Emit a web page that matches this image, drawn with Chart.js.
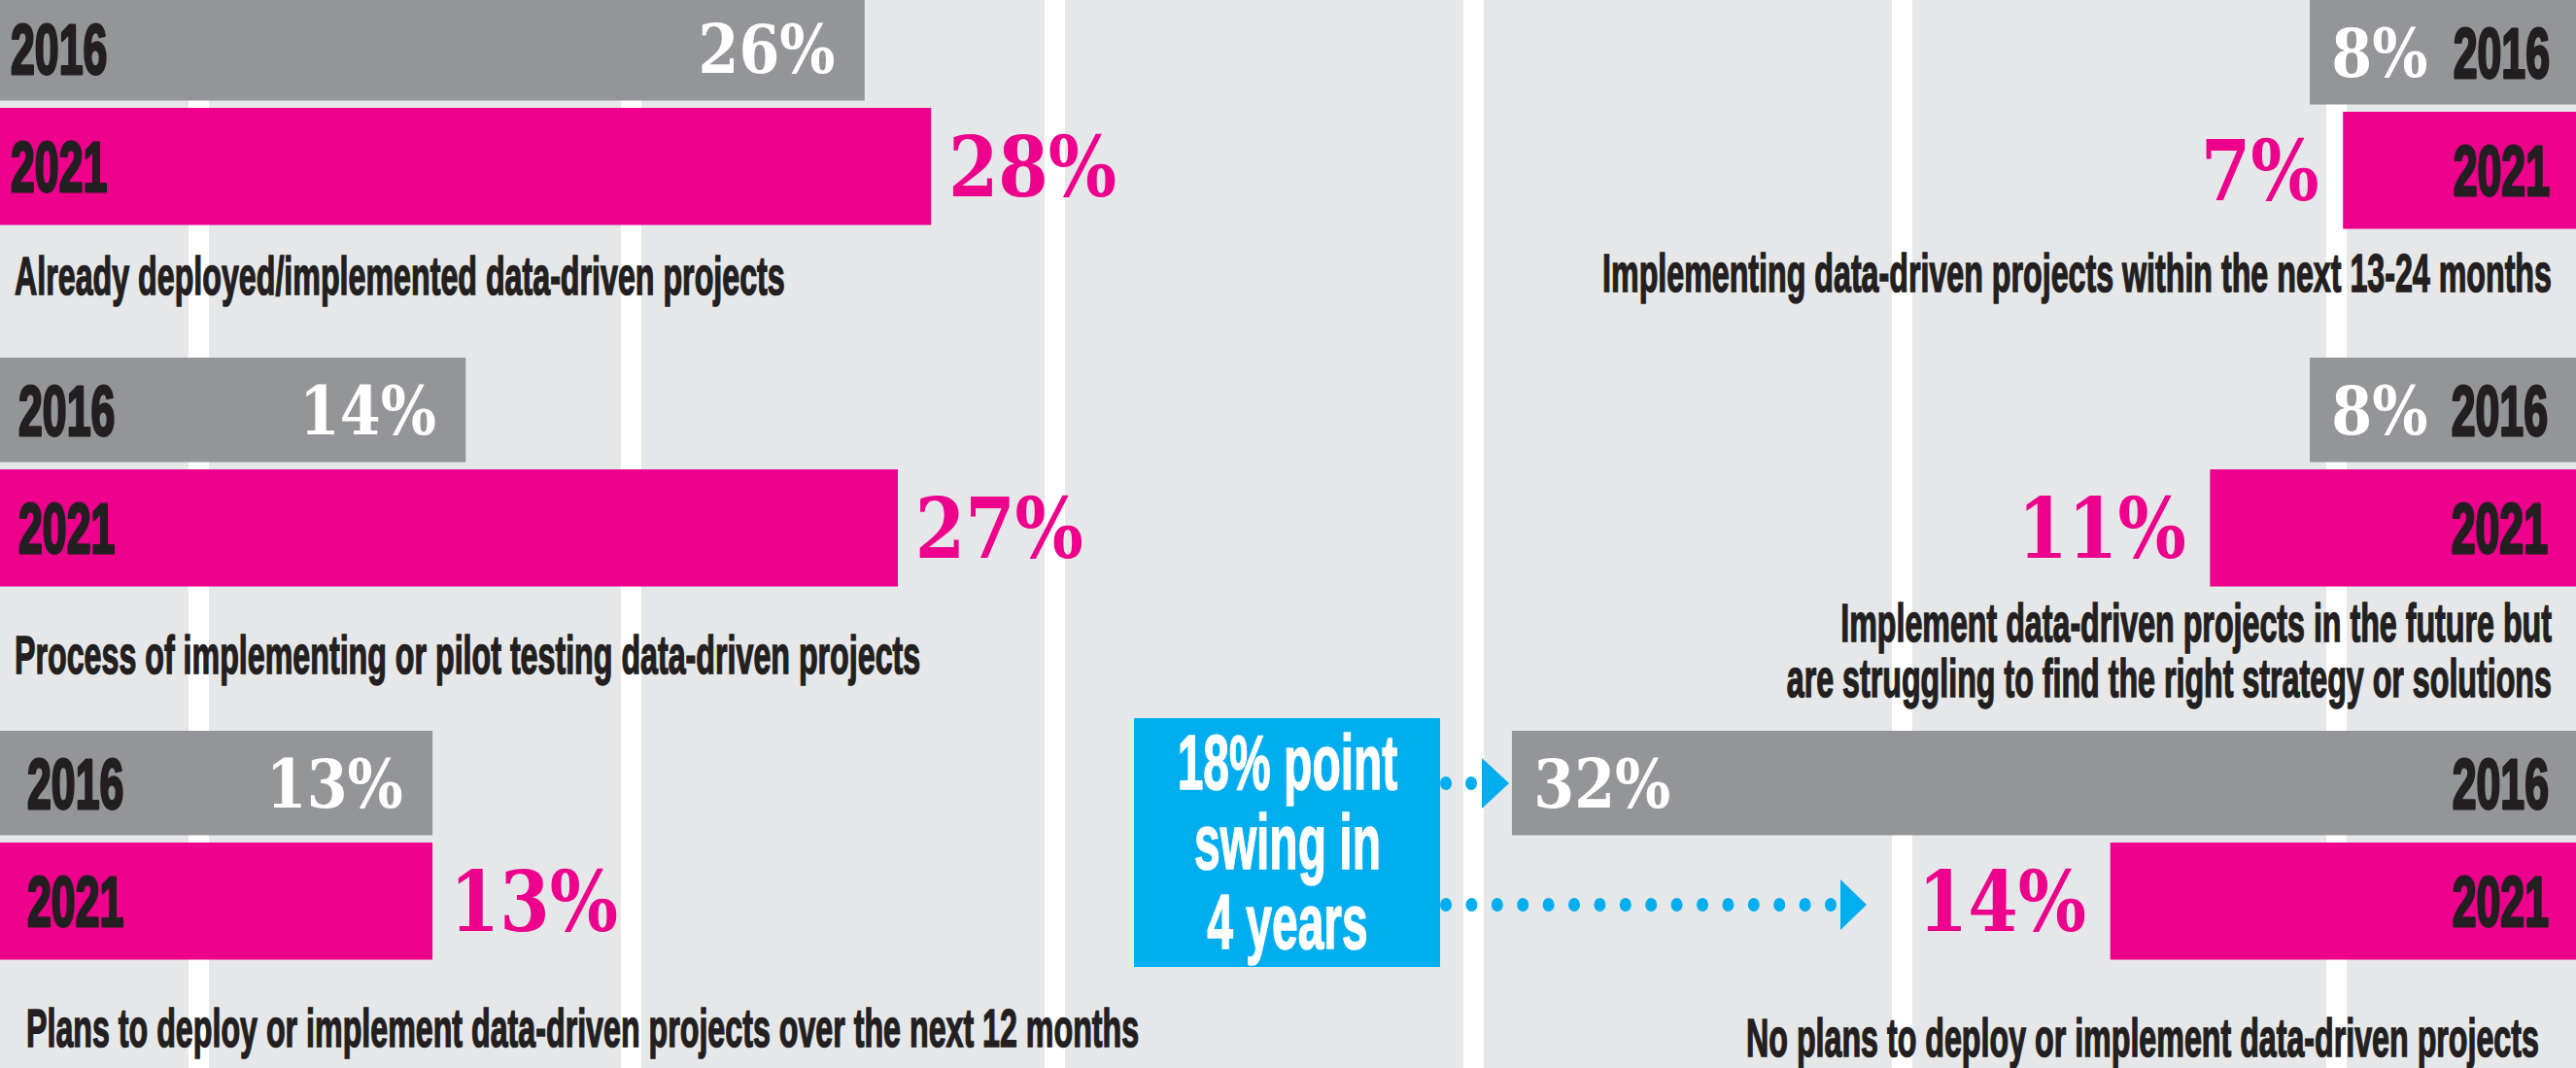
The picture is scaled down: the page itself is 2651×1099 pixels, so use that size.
<!DOCTYPE html>
<html>
<head>
<meta charset="utf-8">
<title>Data-driven projects 2016 vs 2021</title>
<script src="https://cdn.jsdelivr.net/npm/chart.js@4.4.1/dist/chart.umd.min.js"></script>
<style>
  html, body { margin: 0; padding: 0; }
  body { width: 2651px; height: 1099px; position: relative; overflow: hidden; background: #e6e7e8; }
  .stripe { position: absolute; top: 0; width: 21px; height: 1099px; background: #fff; }
  canvas { position: absolute; }
  .desc {
    position: absolute; white-space: pre;
    font-family: 'Liberation Sans', Arial, sans-serif; font-weight: bold;
    font-size: 56px; line-height: 57px; color: #231f20;
    -webkit-text-stroke: 1.5px #231f20;
    transform: scaleX(0.575);
  }
  .desc.l { transform-origin: left top; }
  .desc.r { transform-origin: right top; text-align: right; }
  .callout { position: absolute; left: 1167px; top: 739px; width: 315px; height: 256px; background: #00aeef; }
  .callout div {
    position: absolute; left: -142px; top: 5px; width: 600px; text-align: center; white-space: pre;
    font-family: 'Liberation Sans', Arial, sans-serif; font-weight: bold;
    font-size: 80px; line-height: 82px; color: #fff;
    -webkit-text-stroke: 1.5px #fff;
    transform: scaleX(0.6); transform-origin: center top;
  }
  svg { position: absolute; left: 0; top: 0; }
</style>
</head>
<body>
<script>
// データ
const categories = [
  'Already deployed/implemented data-driven projects',
  'Process of implementing or pilot testing data-driven projects',
  'Plans to deploy or implement data-driven projects over the next 12 months',
  'Implementing data-driven projects within the next 13-24 months',
  'Implement data-driven projects in the future but\nare struggling to find the right strategy or solutions',
  'No plans to deploy or implement data-driven projects'
];
const years = ['2016', '2021'];
const values2016 = [26, 14, 13, 8, 8, 32];
const values2021 = [28, 27, 13, 7, 11, 14];

const GRAY = '#939598';
const PINK = '#ec008c';
const BLUE = '#00aeef';
const INK = '#231f20';

const CW = 1300, CH = 243;
const X_MAX = 38;

// 配置 (side, canvas top, year label inset)
const panels = [
  { side: 'left',  top: -11, inset: 11 },
  { side: 'left',  top: 361, inset: 19 },
  { side: 'left',  top: 745, inset: 28 },
  { side: 'right', top: -7,  inset: 27 },
  { side: 'right', top: 361, inset: 29 },
  { side: 'right', top: 745, inset: 28 }
];
const descPos = [
  { left: 15, top: 255 },
  { left: 15, top: 645 },
  { left: 27, top: 1029 },
  { right: 25, top: 252 },
  { right: 25, top: 612 },
  { right: 38, top: 1039 }
];
const stripes = [194, 639, 1075, 1506, 1947, 2394];

stripes.forEach(x => {
  const s = document.createElement('div');
  s.className = 'stripe';
  s.style.left = x + 'px';
  document.body.appendChild(s);
});

function squeezeText(ctx, text, x, y, font, color, align, sx, stroke) {
  ctx.save();
  ctx.font = font;
  ctx.fillStyle = color;
  ctx.strokeStyle = color;
  ctx.lineJoin = 'round';
  ctx.textAlign = align;
  ctx.textBaseline = 'alphabetic';
  ctx.translate(x, y);
  ctx.scale(sx, 1);
  ctx.fillText(text, 0, 0);
  if (stroke) {
    ctx.lineWidth = stroke;
    ctx.strokeText(text, 0, 0);
  }
  ctx.restore();
}

const YEAR_FONT = "bold 72px 'Liberation Sans', Arial, sans-serif";
const PCT_SMALL = "bold 70px 'DejaVu Serif', serif";
const PCT_LARGE = "bold 86px 'DejaVu Serif', serif";

// バーのラベル
const barLabels = {
  id: 'barLabels',
  afterDatasetsDraw(chart, args, opts) {
    const ctx = chart.ctx;
    const right = opts.side === 'right';
    chart.data.datasets.forEach((ds, di) => {
      const meta = chart.getDatasetMeta(di);
      meta.data.forEach((bar, i) => {
        const v = ds.data[i];
        if (v == null) return;
        const p = bar.getProps(['x', 'y', 'base'], true);
        squeezeText(ctx, years[i], right ? p.base - opts.inset : p.base + opts.inset, p.y + 26,
          YEAR_FONT, INK, right ? 'right' : 'left', 0.62, 3);
        const txt = v + '%';
        if (di === 0) {
          squeezeText(ctx, txt, right ? p.x + 22 : p.x - 30, p.y + 25.5,
            PCT_SMALL, '#fff', right ? 'left' : 'right', 0.86, 0);
        } else {
          squeezeText(ctx, txt, right ? p.x - 25 : p.x + 18, p.y + 31,
            PCT_LARGE, PINK, right ? 'right' : 'left', 0.86, 0);
        }
      });
    });
  }
};

panels.forEach((p, i) => {
  const cv = document.createElement('canvas');
  cv.width = CW;
  cv.height = CH;
  cv.style.left = (p.side === 'left' ? 0 : 2651 - CW) + 'px';
  cv.style.top = p.top + 'px';
  document.body.appendChild(cv);

  new Chart(cv, {
    type: 'bar',
    data: {
      labels: years,
      datasets: [
        { label: years[0], data: [values2016[i], null], backgroundColor: GRAY, barThickness: 107 },
        { label: years[1], data: [null, values2021[i]], backgroundColor: PINK, barThickness: 120 }
      ]
    },
    options: {
      indexAxis: 'y',
      responsive: false,
      animation: false,
      events: [],
      layout: { padding: 0 },
      datasets: { bar: { grouped: false, borderWidth: 0 } },
      scales: {
        x: { display: false, min: 0, max: X_MAX, reverse: p.side === 'right' },
        y: { display: false }
      },
      plugins: {
        legend: { display: false },
        tooltip: { enabled: false },
        barLabels: { side: p.side, inset: p.inset }
      }
    },
    plugins: [barLabels]
  });
});

// 説明文
categories.forEach((c, i) => {
  const d = document.createElement('div');
  const pos = descPos[i];
  d.className = 'desc ' + (pos.left != null ? 'l' : 'r');
  d.textContent = c;
  d.style.top = pos.top + 'px';
  if (pos.left != null) d.style.left = pos.left + 'px';
  else d.style.right = pos.right + 'px';
  document.body.appendChild(d);
});

// 矢印 (点線)
const swing = values2016[5] - values2021[5];
let svg = '<svg width="2651" height="1099" xmlns="http://www.w3.org/2000/svg">';
[1488, 1514].forEach(x => { svg += `<ellipse cx="${x}" cy="806" rx="6" ry="7" fill="${BLUE}"/>`; });
svg += `<polygon points="1525,780 1553,806 1525,832" fill="${BLUE}"/>`;
for (let k = 0; k < 16; k++) {
  svg += `<ellipse cx="${1488 + k * 26.4}" cy="931" rx="6" ry="7" fill="${BLUE}"/>`;
}
svg += `<polygon points="1894,905 1921,931 1894,957" fill="${BLUE}"/>`;
svg += '</svg>';
document.body.insertAdjacentHTML('beforeend', svg);

const box = document.createElement('div');
box.className = 'callout';
const inner = document.createElement('div');
inner.textContent = `${swing}% point\nswing in\n4 years`;
box.appendChild(inner);
document.body.appendChild(box);
</script>
</body>
</html>
